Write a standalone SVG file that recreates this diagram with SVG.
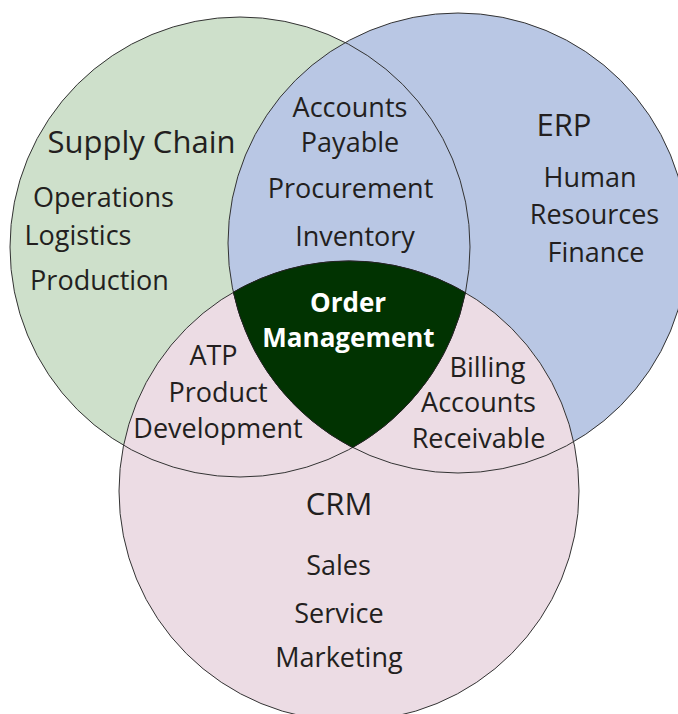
<svg xmlns="http://www.w3.org/2000/svg" width="678" height="714" viewBox="0 0 678 714">
<style>
.ol{fill:none;stroke:#333;stroke-width:1}
text{font-family:"Open Sans","Liberation Sans",sans-serif;fill:#231f20;text-anchor:middle;font-size:27px}
.h{font-size:31px}
.w{fill:#fff;font-weight:bold;font-size:26px}
</style>
<rect width="678" height="714" fill="#fff"/>
<g id="fills">
<circle id="supply-fill" cx="240" cy="247" r="230" fill="#cee0cb"/>
<circle id="erp-fill" cx="458" cy="243" r="230" fill="#b9c7e4"/>
<circle id="crm-fill" cx="349" cy="491" r="230" fill="#ecdce4"/>
</g>
<g id="outlines">
<circle class="ol" cx="240" cy="247" r="230"/>
<circle class="ol" cx="458" cy="243" r="230"/>
<circle class="ol" cx="349" cy="491" r="230"/>
</g>
<g id="order-management">
<path d="M233.3,292.2 A230,230 0 0 1 465.4,292.6 A230,230 0 0 1 352.7,447.5 A230,230 0 0 1 233.3,292.2 Z" fill="#013301" stroke="#222" stroke-width="1"/>
<text class="w" x="348" y="312">Order</text>
<text class="w" x="348.5" y="347">Management</text>
</g>
<g id="supply-chain">
<text class="h" x="141.5" y="153">Supply Chain</text>
<text x="103.5" y="207">Operations</text>
<text x="78" y="245">Logistics</text>
<text x="99.5" y="290">Production</text>
</g>
<g id="supply-erp">
<text x="350" y="117">Accounts</text>
<text x="350" y="152">Payable</text>
<text x="350.5" y="198">Procurement</text>
<text x="355" y="246">Inventory</text>
</g>
<g id="erp">
<text class="h" x="564" y="136">ERP</text>
<text x="590" y="187">Human</text>
<text x="594.5" y="224">Resources</text>
<text x="596" y="262">Finance</text>
</g>
<g id="supply-crm">
<text x="213.5" y="365">ATP</text>
<text x="218" y="402">Product</text>
<text x="218" y="438">Development</text>
</g>
<g id="erp-crm">
<text x="487.5" y="377">Billing</text>
<text x="478.5" y="412">Accounts</text>
<text x="478.5" y="448">Receivable</text>
</g>
<g id="crm">
<text class="h" x="339" y="515">CRM</text>
<text x="338.5" y="575">Sales</text>
<text x="339" y="623">Service</text>
<text x="339" y="667">Marketing</text>
</g>
</svg>
